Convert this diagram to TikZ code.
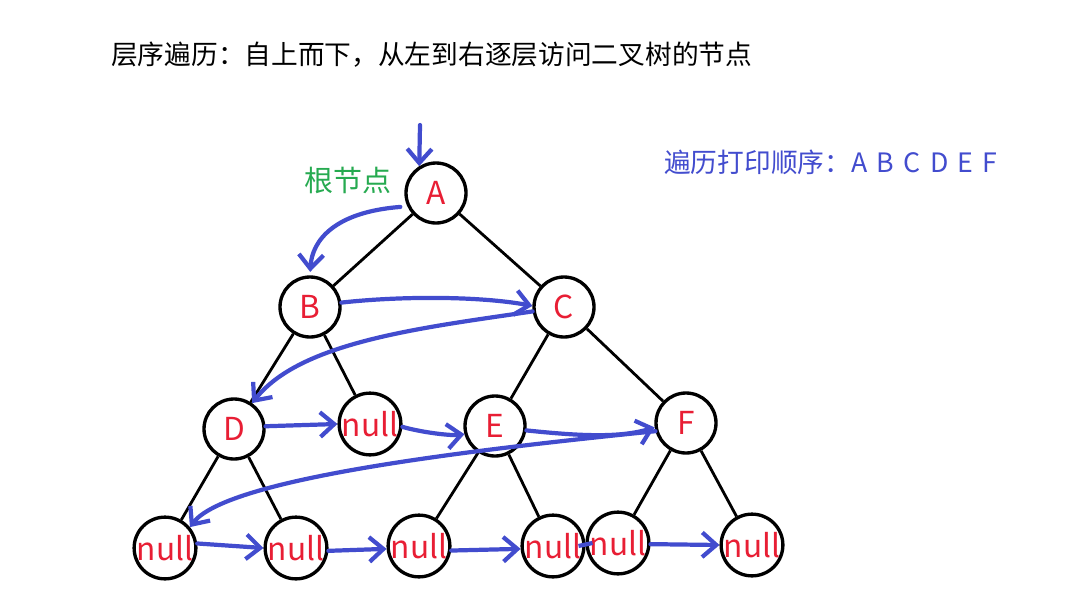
\documentclass[tikz,border=0pt]{standalone}
\usepackage{fontspec}
\setmainfont{Noto Sans CJK SC}
\usetikzlibrary{arrows.meta}

\definecolor{penblue}{RGB}{66,76,206}
\definecolor{keyred}{RGB}{232,30,52}
\definecolor{rootgreen}{RGB}{38,170,80}

\begin{document}
\begin{tikzpicture}[x=0.02cm, y=-0.02cm,
  nd/.style={circle, draw, line width=1.9pt, minimum size=1.2cm, inner sep=0pt,
    text=keyred, font=\fontsize{18}{18}\selectfont},
  ed/.style={line width=1.6pt},
  trace/.style={draw=penblue, line width=2.4pt, line cap=round,
    -{Straight Barb[length=8pt,width=14pt,line width=2.4pt]}},
  lb/.style={font=\fontsize{15.2}{15.2}\selectfont},
]
\useasboundingbox (0,0) rectangle (1077,612);

\node[lb, anchor=west] (title) at (105,55) {层序遍历：自上而下，从左到右逐层访问二叉树的节点};
\node[lb, anchor=west, text=penblue] (order) at (658,162) {遍历打印顺序：A\hspace{0.35em}B\hspace{0.35em}C\hspace{0.35em}D\hspace{0.35em}E\hspace{0.35em}F};
\node[font=\fontsize{16.5}{16.5}\selectfont, text=rootgreen] (root) at (348,180) {根节点};

% tree
\node[nd] (A) at (436,193) {A};
\node[nd] (B) at (310,307) {B};
\node[nd] (C) at (564,307) {C};
\node[nd] (D) at (234,429) {D};
\node[nd] (N1) at (370,424) {null};
\node[nd] (E) at (495,426) {E};
\node[nd] (F) at (686,423) {F};
\node[nd] (L1) at (165,548) {null};
\node[nd] (L2) at (296,548) {null};
\node[nd] (L3) at (419,546) {null};
\node[nd] (L4) at (553,546) {null};
\node[nd] (L5) at (618,543) {null};
\node[nd] (L6) at (752,545) {null};

\draw[ed] (A) -- (B);
\draw[ed] (A) -- (C);
\draw[ed] (B) -- (D);
\draw[ed] (B) -- (N1);
\draw[ed] (C) -- (E);
\draw[ed] (C) -- (F);
\draw[ed] (D) -- (L1);
\draw[ed] (D) -- (L2);
\draw[ed] (E) -- (L3);
\draw[ed] (E) -- (L4);
\draw[ed] (F) -- (L5);
\draw[ed] (F) -- (L6);

% traversal order
\coordinate (start) at (420,125);
\draw[trace] (start) -- (A.122);
\draw[trace, shorten <=4pt, shorten >=2pt] (A.205) .. controls (335,212) and (312,240) .. (B.north);
\draw[trace] (B.8) .. controls (400,296) and (480,296) .. (C.178);
\draw[trace] (C.188) .. controls (420,328) and (300,342) .. (D.55);
\draw[trace] (D.5) -- (N1.180);
\draw[trace] (N1.355) .. controls (420,432) and (450,436) .. (E.195);
\draw[trace] (E.352) .. controls (580,436) and (620,438) .. (F.188);
\draw[trace] (F.195) .. controls (450,452) and (225,480) .. (L1.40);
\draw[trace] (L1.8) -- (L2.180);
\draw[trace] (L2.355) -- (L3.185);
\draw[trace] (L3.352) -- (L4.185);
\draw[draw=penblue, line width=2.4pt] ([xshift=-4pt]L4.east) -- ([xshift=4pt]L5.west);
\draw[trace] (L5.358) -- (L6.180);
\end{tikzpicture}
\end{document}
